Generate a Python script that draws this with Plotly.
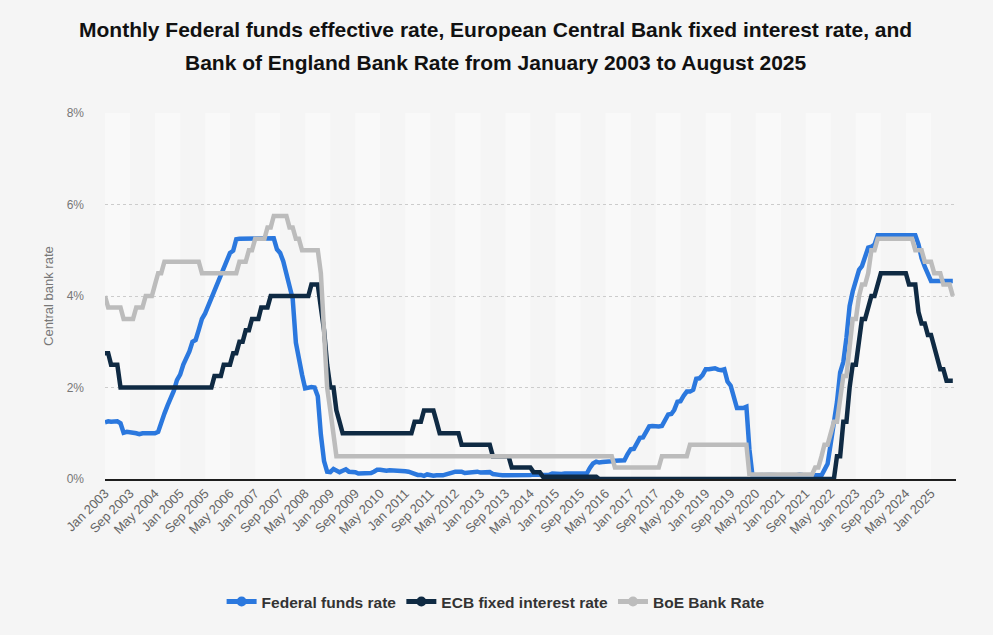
import pandas as pd
import plotly.graph_objects as go

# ---------------- data ----------------
months = pd.date_range("2003-01-01", "2025-08-01", freq="MS")

fed_rate = (
    [1.24, 1.26, 1.25, 1.26, 1.26, 1.22, 1.01, 1.03, 1.01, 1.01, 1.00, 0.98] +   # 2003
    [1.00, 1.01, 1.00, 1.00, 1.00, 1.03, 1.26, 1.43, 1.61, 1.76, 1.93, 2.16] +   # 2004
    [2.28, 2.50, 2.63, 2.79, 3.00, 3.04, 3.26, 3.50, 3.62, 3.78, 4.00, 4.16] +   # 2005
    [4.29, 4.49, 4.59, 4.79, 4.94, 4.99, 5.24, 5.25, 5.25, 5.25, 5.25, 5.24] +   # 2006
    [5.25, 5.26, 5.26, 5.25, 5.25, 5.25, 5.26, 5.02, 4.94, 4.76, 4.49, 4.24] +   # 2007
    [3.94, 2.98, 2.61, 2.28, 1.98, 2.00, 2.01, 2.00, 1.81, 0.97, 0.39, 0.16] +   # 2008
    [0.15, 0.22, 0.18, 0.15, 0.18, 0.21, 0.16, 0.16, 0.15, 0.12, 0.12, 0.12] +   # 2009
    [0.11, 0.13, 0.16, 0.20, 0.20, 0.18, 0.18, 0.19, 0.19, 0.19, 0.19, 0.18] +   # 2010
    [0.17, 0.16, 0.14, 0.10, 0.09, 0.09, 0.07, 0.10, 0.08, 0.07, 0.08, 0.07] +   # 2011
    [0.08, 0.10, 0.13, 0.14, 0.16, 0.16, 0.16, 0.13, 0.14, 0.16, 0.16, 0.16] +   # 2012
    [0.14, 0.15, 0.14, 0.15, 0.11, 0.09, 0.09, 0.08, 0.08, 0.09, 0.08, 0.09] +   # 2013
    [0.07, 0.07, 0.08, 0.09, 0.09, 0.10, 0.09, 0.09, 0.09, 0.09, 0.09, 0.12] +   # 2014
    [0.11, 0.11, 0.11, 0.12, 0.12, 0.13, 0.13, 0.14, 0.14, 0.12, 0.12, 0.24] +   # 2015
    [0.34, 0.38, 0.36, 0.37, 0.37, 0.38, 0.39, 0.40, 0.40, 0.40, 0.41, 0.54] +   # 2016
    [0.65, 0.66, 0.79, 0.90, 0.91, 1.04, 1.15, 1.16, 1.15, 1.15, 1.16, 1.30] +   # 2017
    [1.41, 1.42, 1.51, 1.69, 1.70, 1.82, 1.91, 1.91, 1.95, 2.19, 2.20, 2.27] +   # 2018
    [2.40, 2.40, 2.41, 2.42, 2.39, 2.38, 2.40, 2.13, 2.04, 1.83, 1.55, 1.55] +   # 2019
    [1.55, 1.58, 0.65, 0.05, 0.05, 0.08, 0.09, 0.10, 0.09, 0.09, 0.09, 0.09] +   # 2020
    [0.09, 0.08, 0.07, 0.07, 0.06, 0.08, 0.10, 0.09, 0.08, 0.08, 0.08, 0.08] +   # 2021
    [0.08, 0.08, 0.20, 0.33, 0.77, 1.21, 1.68, 2.33, 2.56, 3.08, 3.78, 4.10] +   # 2022
    [4.33, 4.57, 4.65, 4.83, 5.06, 5.08, 5.12, 5.33, 5.33, 5.33, 5.33, 5.33] +   # 2023
    [5.33, 5.33, 5.33, 5.33, 5.33, 5.33, 5.33, 5.33, 5.13, 4.83, 4.64, 4.48] +   # 2024
    [4.33, 4.33, 4.33, 4.33, 4.33, 4.33, 4.33, 4.33]                             # 2025
)

ecb_rate = (
    [2.75, 2.75, 2.50, 2.50, 2.50, 2.00, 2.00, 2.00, 2.00, 2.00, 2.00, 2.00] +   # 2003
    [2.00] * 12 +                                                                # 2004
    [2.00] * 11 + [2.25] +                                                       # 2005
    [2.25, 2.25, 2.50, 2.50, 2.50, 2.75, 2.75, 3.00, 3.00, 3.25, 3.25, 3.50] +   # 2006
    [3.50, 3.50, 3.75, 3.75, 3.75, 4.00, 4.00, 4.00, 4.00, 4.00, 4.00, 4.00] +   # 2007
    [4.00, 4.00, 4.00, 4.00, 4.00, 4.00, 4.25, 4.25, 4.25, 3.75, 3.25, 2.50] +   # 2008
    [2.00, 2.00, 1.50, 1.25, 1.00, 1.00, 1.00, 1.00, 1.00, 1.00, 1.00, 1.00] +   # 2009
    [1.00] * 12 +                                                                # 2010
    [1.00, 1.00, 1.00, 1.25, 1.25, 1.25, 1.50, 1.50, 1.50, 1.50, 1.25, 1.00] +   # 2011
    [1.00, 1.00, 1.00, 1.00, 1.00, 1.00, 0.75, 0.75, 0.75, 0.75, 0.75, 0.75] +   # 2012
    [0.75, 0.75, 0.75, 0.75, 0.50, 0.50, 0.50, 0.50, 0.50, 0.50, 0.25, 0.25] +   # 2013
    [0.25, 0.25, 0.25, 0.25, 0.25, 0.15, 0.15, 0.15, 0.05, 0.05, 0.05, 0.05] +   # 2014
    [0.05] * 12 +                                                                # 2015
    [0.05, 0.05] + [0.00] * 10 +                                                 # 2016
    [0.00] * 12 + [0.00] * 12 + [0.00] * 12 + [0.00] * 12 + [0.00] * 12 +        # 2017-2021
    [0.00, 0.00, 0.00, 0.00, 0.00, 0.00, 0.50, 0.50, 1.25, 1.25, 2.00, 2.50] +   # 2022
    [2.50, 3.00, 3.50, 3.50, 3.75, 4.00, 4.00, 4.25, 4.50, 4.50, 4.50, 4.50] +   # 2023
    [4.50, 4.50, 4.50, 4.50, 4.50, 4.25, 4.25, 4.25, 3.65, 3.40, 3.40, 3.15] +   # 2024
    [3.15, 2.90, 2.65, 2.40, 2.40, 2.15, 2.15, 2.15]                             # 2025
)

boe_rate = (
    [4.00, 3.75, 3.75, 3.75, 3.75, 3.75, 3.50, 3.50, 3.50, 3.50, 3.75, 3.75] +   # 2003
    [3.75, 4.00, 4.00, 4.00, 4.25, 4.50, 4.50, 4.75, 4.75, 4.75, 4.75, 4.75] +   # 2004
    [4.75] * 7 + [4.50] * 5 +                                                    # 2005
    [4.50] * 7 + [4.75, 4.75, 4.75, 5.00, 5.00] +                                # 2006
    [5.25, 5.25, 5.25, 5.25, 5.50, 5.50, 5.75, 5.75, 5.75, 5.75, 5.75, 5.50] +   # 2007
    [5.50, 5.25, 5.25, 5.00, 5.00, 5.00, 5.00, 5.00, 5.00, 4.50, 3.00, 2.00] +   # 2008
    [1.50, 1.00] + [0.50] * 10 +                                                 # 2009
    [0.50] * 72 +                                                                # 2010-2015
    [0.50] * 7 + [0.25] * 5 +                                                    # 2016
    [0.25] * 10 + [0.50] * 2 +                                                   # 2017
    [0.50] * 7 + [0.75] * 5 +                                                    # 2018
    [0.75] * 12 +                                                                # 2019
    [0.75, 0.75] + [0.10] * 10 +                                                 # 2020
    [0.10] * 11 + [0.25] +                                                       # 2021
    [0.25, 0.50, 0.75, 0.75, 1.00, 1.25, 1.25, 1.75, 2.25, 2.25, 3.00, 3.50] +   # 2022
    [3.50, 4.00, 4.25, 4.25, 4.50, 5.00, 5.00, 5.25, 5.25, 5.25, 5.25, 5.25] +   # 2023
    [5.25] * 7 + [5.00, 5.00, 5.00, 4.75, 4.75] +                                # 2024
    [4.75, 4.50, 4.50, 4.50, 4.25, 4.25, 4.25, 4.00]                             # 2025
)

series_names = ["Federal funds rate", "ECB fixed interest rate", "BoE Bank Rate"]
series_colors = ["#2b78de", "#0f2a43", "#bcbcbc"]

tick_dates = months[::8]
tick_labels = [d.strftime("%b %Y") for d in tick_dates]

y_ticks = [0, 2, 4, 6, 8]
y_tick_labels = ["0%", "2%", "4%", "6%", "8%"]

title_lines = [
    "Monthly Federal funds effective rate, European Central Bank fixed interest rate, and",
    "Bank of England Bank Rate from January 2003 to August 2025",
]
y_title = "Central bank rate"

# ---------------- figure ----------------
FONT = "Liberation Sans, Arial, sans-serif"
BG = "#f5f5f5"
x_end = months[-1] + pd.DateOffset(months=1)

fig = go.Figure()

for name, vals, col in zip(series_names, [fed_rate, ecb_rate, boe_rate], series_colors):
    fig.add_trace(go.Scatter(
        x=months, y=vals, mode="lines", name=name,
        line=dict(color=col, width=4.5), showlegend=False,
        hovertemplate="%{x|%b %Y}: %{y:.2f}%<extra>" + name + "</extra>",
    ))

# legend-only entries (line + dot symbol)
for name, col in zip(series_names, series_colors):
    fig.add_trace(go.Scatter(
        x=[None], y=[None], mode="lines+markers", name=name,
        line=dict(color=col, width=5), marker=dict(color=col, size=10, symbol="circle"),
        showlegend=True,
    ))

# alternating background bands between ticks
band_edges = list(tick_dates) + [x_end]
shapes = []
for i in range(len(band_edges) - 1):
    if i % 2 == 0:
        shapes.append(dict(
            type="rect", xref="x", yref="paper",
            x0=band_edges[i], x1=band_edges[i + 1], y0=0, y1=1,
            fillcolor="#f9f9f9", line=dict(width=0), layer="below",
        ))

annotations = [
    dict(text="<b>" + title_lines[0] + "</b>", xref="paper", yref="paper",
         x=0.459, y=1.2268, xanchor="center", yanchor="middle", showarrow=False,
         font=dict(family=FONT, size=21, color="#111111")),
    dict(text="<b>" + title_lines[1] + "</b>", xref="paper", yref="paper",
         x=0.459, y=1.1393, xanchor="center", yanchor="middle", showarrow=False,
         font=dict(family=FONT, size=21, color="#111111")),
    dict(text=y_title, xref="paper", yref="paper", x=-0.067, y=0.5,
         xanchor="center", yanchor="middle", textangle=-90, showarrow=False,
         font=dict(family=FONT, size=13, color="#777777")),
]

fig.update_layout(
    width=993, height=635,
    margin=dict(l=105, r=37, t=113, b=156),
    paper_bgcolor=BG, plot_bgcolor=BG,
    shapes=shapes, annotations=annotations,
    font=dict(family=FONT, color="#666666"),
    legend=dict(
        orientation="h", x=0.459, xanchor="center", y=-0.336, yanchor="middle",
        font=dict(family=FONT, size=15.5, color="#333333", weight="bold"),
        bgcolor="rgba(0,0,0,0)", itemwidth=30, tracegroupgap=0,
    ),
    showlegend=True,
    hovermode="x unified",
)

fig.update_xaxes(
    range=[months[0], x_end],
    tickvals=tick_dates, ticktext=tick_labels, tickangle=-45,
    tickfont=dict(family=FONT, size=13, color="#666666"),
    showgrid=False, showline=True, linecolor="#1e1e1e", linewidth=1.5,
    ticks="", zeroline=False,
)
fig.update_yaxes(
    range=[0, 8], tickvals=y_ticks, ticktext=y_tick_labels,
    tickfont=dict(family=FONT, size=12, color="#777777"),
    showgrid=True, gridcolor="#cccccc", griddash="dot", gridwidth=1,
    zeroline=False, ticks="", ticklabelstandoff=20,
)

fig.write_html(
    "out.html",
    config={"displayModeBar": False},
    post_script="document.body.style.margin='0';document.body.style.background='" + BG + "';",
)
